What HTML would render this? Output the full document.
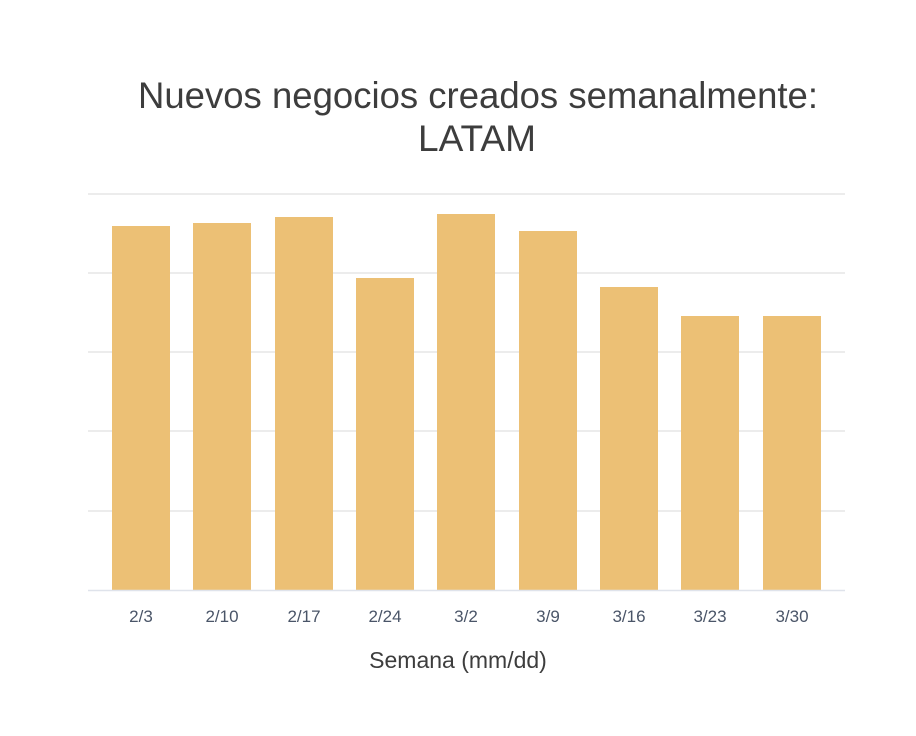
<!DOCTYPE html>
<html><head><meta charset="utf-8"><style>html,body{margin:0;padding:0;background:#fff}</style></head>
<body>
<svg width="916" height="736" xmlns="http://www.w3.org/2000/svg" style="display:block">
<rect width="916" height="736" fill="#fff"/>
<g font-family="Liberation Sans, sans-serif" fill="#3d3d3d">
<text x="138" y="108" font-size="37" textLength="680" lengthAdjust="spacingAndGlyphs">Nuevos negocios creados semanalmente:</text>
<text x="418" y="151" font-size="37" textLength="118" lengthAdjust="spacingAndGlyphs">LATAM</text>
</g>
<g stroke="#e6e6e6" stroke-width="1.5">
<line x1="88" x2="845" y1="194" y2="194"/>
<line x1="88" x2="845" y1="273" y2="273"/>
<line x1="88" x2="845" y1="352" y2="352"/>
<line x1="88" x2="845" y1="431" y2="431"/>
<line x1="88" x2="845" y1="511" y2="511"/>
</g>
<g fill="#ecc075">
<rect x="112" y="226" width="58" height="364"/>
<rect x="193" y="223" width="58" height="367"/>
<rect x="275" y="217" width="58" height="373"/>
<rect x="356" y="278" width="58" height="312"/>
<rect x="437" y="214" width="58" height="376"/>
<rect x="519" y="231" width="58" height="359"/>
<rect x="600" y="287" width="58" height="303"/>
<rect x="681" y="316" width="58" height="274"/>
<rect x="763" y="316" width="58" height="274"/>
</g>
<line x1="88" x2="845" y1="590.5" y2="590.5" stroke="#dfe3eb" stroke-width="1.5"/>
<g font-family="Liberation Sans, sans-serif" font-size="17" fill="#4a5568" text-anchor="middle">
<text x="141" y="622">2/3</text><text x="222" y="622">2/10</text><text x="304" y="622">2/17</text>
<text x="385" y="622">2/24</text><text x="466" y="622">3/2</text><text x="548" y="622">3/9</text>
<text x="629" y="622">3/16</text><text x="710" y="622">3/23</text><text x="792" y="622">3/30</text>
</g>
<text x="458" y="668" font-family="Liberation Sans, sans-serif" font-size="23" fill="#3d3d3d" text-anchor="middle">Semana (mm/dd)</text>
</svg>
</body></html>
